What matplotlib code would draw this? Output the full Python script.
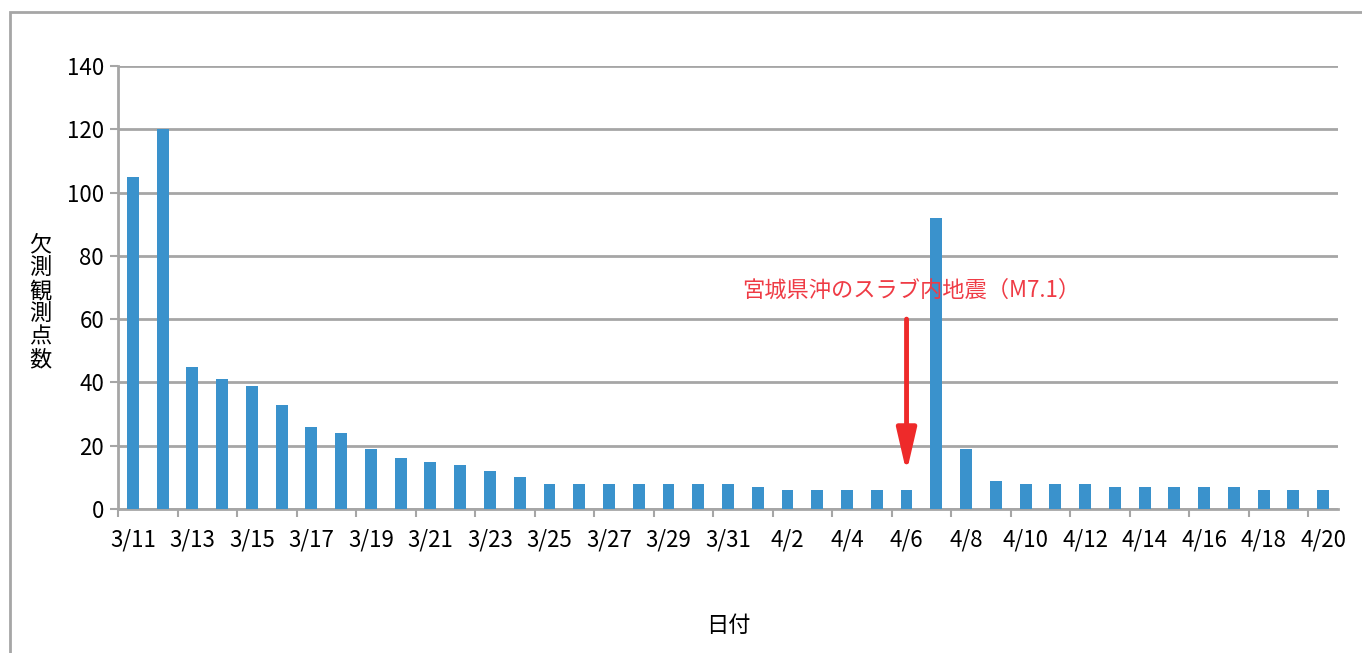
import numpy as np
import matplotlib.pyplot as plt
from matplotlib.patches import Rectangle

plt.rcParams['font.family'] = ['Noto Sans CJK JP', 'DejaVu Sans']

# missing observation stations per day, 3/11 - 4/20
dates = ['3/11', '3/12', '3/13', '3/14', '3/15', '3/16', '3/17', '3/18', '3/19', '3/20',
         '3/21', '3/22', '3/23', '3/24', '3/25', '3/26', '3/27', '3/28', '3/29', '3/30',
         '3/31', '4/1', '4/2', '4/3', '4/4', '4/5', '4/6', '4/7', '4/8', '4/9',
         '4/10', '4/11', '4/12', '4/13', '4/14', '4/15', '4/16', '4/17', '4/18', '4/19', '4/20']
counts = [105, 120, 45, 41, 39, 33, 26, 24, 19, 16,
          15, 14, 12, 10, 8, 8, 8, 8, 8, 8,
          8, 7, 6, 6, 6, 6, 6, 92, 19, 9,
          8, 8, 8, 7, 7, 7, 7, 7, 6, 6, 6]
yticks = [0, 20, 40, 60, 80, 100, 120, 140]

event_label = '宮城県沖のスラブ内地震（M7.1）'
event_date = '4/6'
arrow_top = 60
arrow_bottom = 11.5

fig = plt.figure(figsize=(13.62, 6.53), dpi=100)
fig.patches.append(Rectangle((10 / 1362, -0.1), 1.2, 1 - 12 / 653 + 0.1,
                             transform=fig.transFigure, fill=False,
                             edgecolor='#a6a6a6', linewidth=2))
ax = fig.add_axes([118 / 1362, 1 - 509 / 653, 1220 / 1362, 443 / 653])

x = np.arange(len(dates))
ax.bar(x, counts, width=0.4, color='#3a92cc', zorder=3)

ax.set_xlim(-0.5, len(dates) - 0.5)
ax.set_ylim(0, 140)
ax.set_yticks(yticks)
ax.yaxis.grid(True, color='#a6a6a6', linewidth=2)
ax.set_axisbelow(True)

# labels every other day, tick marks on the category boundaries
ax.set_xticks(x[::2])
ax.set_xticklabels(dates[::2])
ax.set_xticks(np.arange(-0.5, len(dates), 2), minor=True)
ax.tick_params(axis='x', which='major', length=0, pad=14, labelsize=16)
ax.tick_params(axis='x', which='minor', length=6, width=1.5, color='#a6a6a6')
ax.tick_params(axis='y', length=6, width=1.5, color='#a6a6a6', labelsize=16, pad=4)

for side in ['top', 'right']:
    ax.spines[side].set_visible(False)
ax.spines['left'].set_color('#a6a6a6')
ax.spines['bottom'].set_color('#a6a6a6')
ax.spines['left'].set_linewidth(2)
ax.spines['bottom'].set_linewidth(2)

ax.set_ylabel('欠\n測\n観\n測\n点\n数', rotation=0, fontsize=16,
              linespacing=1.0, va='center', ha='center')
ax.yaxis.set_label_coords(-78 / 1220, (509 - 302) / 443)
ax.set_xlabel('日付', fontsize=16)
ax.xaxis.set_label_coords(0.5, -(614 - 509) / 443)

ex = dates.index(event_date)
ax.annotate('', xy=(ex, arrow_bottom), xytext=(ex, arrow_top),
            arrowprops=dict(arrowstyle='-|>,head_width=0.6,head_length=2.6',
                            color='#ee2a2a', linewidth=3.5, shrinkA=0, shrinkB=0))
ax.text(ex + 0.17, 69, event_label, color='#ef3b45', fontsize=16,
        ha='center', va='center', zorder=5)

fig.savefig('out.png', dpi=100)
